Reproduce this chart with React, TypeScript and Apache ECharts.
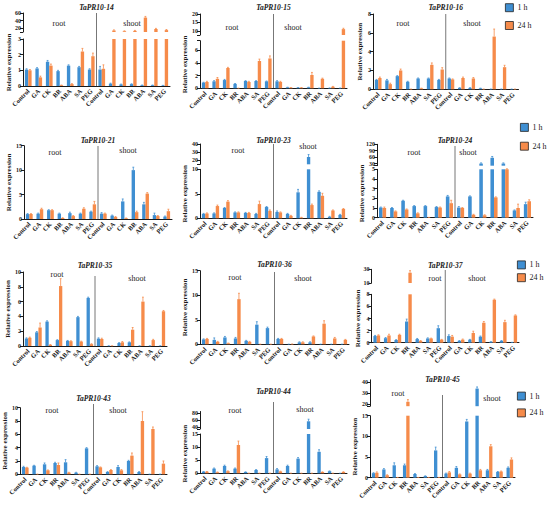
import React, { useEffect, useRef } from "react";
import * as echarts from "echarts";

const categories = ["Control", "GA", "CK", "BR", "ABA", "SA", "PEG", "Control", "GA", "CK", "BR", "ABA", "SA", "PEG"];
const seriesNames = ["1 h", "24 h"];
const yAxisTitle = "Relative expression";
const groupLabels = ["root", "shoot"];

// TaPR10-14
const pr14_1h = [1.05, 1.12, 1.55, 0.95, 1.3, 1.2, 1.05, 1.05, 0.15, 0.1, 0.12, 0.05, 0.05, 0.03];
const pr14_24h = [1.0, 0.55, 1.3, 0.05, 0.12, 2.2, 1.9, 1.1, 14, 12, 13, 48, 18, 15];
const pr14_err1h = [0.05, 0.05, 0.08, 0.05, 0.05, 0.05, 0.05, 0.2, 0.03, 0.02, 0.02, 0.01, 0.01, 0.01];
const pr14_err24h = [0.05, 0.08, 0.1, 0.01, 0.03, 0.2, 0.2, 0.25, 1.5, 1, 1.2, 3, 1.5, 1.5];
const pr14_ticksLow = [0, 1, 2, 3];
const pr14_ticksHigh = [20, 40, 60];

// TaPR10-15
const pr15_1h = [0.9, 1.1, 1.3, 0.7, 1.15, 1.15, 1.1, 1.1, 0.15, 0.1, 0.15, 0.02, 0.05, 0.03];
const pr15_24h = [1.0, 1.5, 3.2, 0.02, 1.0, 4.3, 4.7, 1.0, 0.1, 0.1, 2.1, 1.5, 0.25, 11];
const pr15_err1h = [0.05, 0.1, 0.1, 0.05, 0.05, 0.05, 0.05, 0.1, 0.02, 0.02, 0.02, 0.01, 0.01, 0.01];
const pr15_err24h = [0.1, 0.2, 0.1, 0.01, 0.1, 0.3, 0.4, 0.1, 0.02, 0.02, 0.4, 0.1, 0.05, 0.5];
const pr15_ticksLow = [0, 2, 4, 6];
const pr15_ticksHigh = [10, 15, 20];

// TaPR10-16
const pr16_1h = [1.0, 0.95, 1.4, 0.8, 1.15, 1.15, 1.0, 1.15, 0.15, 0.15, 0.1, 0.02, 0.02, 0.02];
const pr16_24h = [1.2, 0.55, 2.0, 0.02, 0.1, 2.6, 2.1, 1.05, 1.2, 1.15, 0.02, 5.6, 2.35, 0.02];
const pr16_err1h = [0.05, 0.1, 0.05, 0.05, 0.05, 0.05, 0.05, 0.05, 0.02, 0.02, 0.02, 0.01, 0.01, 0.01];
const pr16_err24h = [0.1, 0.1, 0.15, 0.01, 0.02, 0.2, 0.2, 0.05, 0.1, 0.1, 0.01, 0.8, 0.2, 0.01];
const pr16_ticks = [0, 2, 4, 6, 8];

// TaPR10-21
const pr21_1h = [1.0, 1.1, 1.8, 1.1, 1.2, 1.1, 1.5, 1.1, 0.7, 3.6, 10.0, 3.0, 0.8, 0.5];
const pr21_24h = [1.0, 2.0, 1.8, 0.2, 0.6, 2.1, 3.0, 1.1, 0.4, 0.15, 1.4, 5.2, 0.6, 1.6];
const pr21_err1h = [0.1, 0.1, 0.1, 0.1, 0.2, 0.1, 0.1, 0.2, 0.1, 0.5, 0.6, 0.4, 0.4, 0.1];
const pr21_err24h = [0.1, 0.2, 0.1, 0.05, 0.1, 0.2, 0.6, 0.1, 0.1, 0.05, 0.2, 0.2, 0.1, 0.4];
const pr21_ticks = [0, 5, 10, 15];

// TaPR10-23
const pr23_1h = [0.9, 1.0, 2.1, 1.2, 1.1, 0.9, 2.3, 1.3, 0.9, 5.3, 24, 5.4, 0.3, 0.7];
const pr23_24h = [1.0, 2.5, 3.4, 1.2, 1.1, 2.9, 1.5, 1.2, 0.5, 0.15, 2.7, 4.6, 1.6, 1.9];
const pr23_err1h = [0.1, 0.1, 0.1, 0.1, 0.1, 0.1, 0.1, 0.2, 0.1, 0.6, 3, 0.2, 0.1, 0.1];
const pr23_err24h = [0.1, 0.2, 0.2, 0.1, 0.1, 0.6, 0.2, 0.1, 0.1, 0.05, 0.2, 0.5, 0.1, 0.1];
const pr23_ticksLow = [0, 5, 10];
const pr23_ticksHigh = [20, 30, 40];

// TaPR10-24
const pr24_1h = [1.05, 1.0, 1.75, 1.2, 1.2, 1.1, 2.2, 1.05, 2.2, 30, 57, 30, 0.75, 1.4];
const pr24_24h = [1.0, 0.65, 0.85, 0.45, 0.02, 1.05, 1.5, 1.0, 0.3, 0.25, 2.1, 5.0, 1.0, 1.7];
const pr24_err1h = [0.05, 0.05, 0.05, 0.05, 0.05, 0.05, 0.1, 0.1, 0.05, 3, 6, 3, 0.05, 0.2];
const pr24_err24h = [0.1, 0.05, 0.05, 0.05, 0.01, 0.05, 0.3, 0.05, 0.05, 0.05, 0.05, 0.05, 0.4, 0.15];
const pr24_ticksLow = [0, 1, 2, 3, 4, 5];
const pr24_ticksHigh = [30, 60, 90, 120];

// TaPR10-35
const pr35_1h = [1.0, 1.85, 3.3, 0.8, 0.7, 3.9, 6.5, 1.0, 0.02, 0.4, 0.5, 0.02, 0.02, 0.02];
const pr35_24h = [1.1, 2.5, 0.15, 8.1, 0.65, 0.6, 0.25, 0.95, 0.02, 0.5, 2.2, 6.0, 0.8, 4.7];
const pr35_err1h = [0.1, 0.1, 0.1, 0.05, 0.05, 0.1, 0.1, 0.1, 0.01, 0.05, 0.05, 0.01, 0.01, 0.01];
const pr35_err24h = [0.1, 0.6, 0.05, 1.0, 0.05, 0.05, 0.05, 0.1, 0.01, 0.1, 0.3, 0.6, 0.1, 0.1];
const pr35_ticks = [0, 2, 4, 6, 8, 10];

// TaPR10-36
const pr36_1h = [1.0, 0.9, 1.4, 1.2, 0.7, 4.0, 3.3, 1.1, 0.02, 0.4, 0.4, 0.02, 0.02, 0.02];
const pr36_24h = [1.1, 0.5, 0.2, 9.2, 0.5, 0.02, 0.02, 1.1, 0.05, 0.4, 1.6, 4.2, 1.2, 0.9];
const pr36_err1h = [0.1, 0.4, 0.2, 0.2, 0.1, 0.6, 0.2, 0.1, 0.01, 0.1, 0.1, 0.01, 0.01, 0.01];
const pr36_err24h = [0.1, 0.1, 0.05, 1.2, 0.1, 0.01, 0.01, 0.1, 0.02, 0.1, 0.1, 0.6, 0.2, 0.1];
const pr36_ticks = [0, 5, 10, 15];

// TaPR10-37
const pr37_1h = [1.1, 0.75, 0.45, 3.5, 0.6, 0.7, 2.4, 1.1, 0.3, 0.5, 1.0, 0.15, 0.3, 0.05];
const pr37_24h = [1.2, 1.2, 1.3, 25, 0.3, 0.7, 0.5, 1.0, 0.5, 1.6, 3.3, 7.1, 3.4, 4.5];
const pr37_err1h = [0.1, 0.1, 0.05, 0.4, 0.1, 0.1, 0.4, 0.2, 0.05, 0.05, 0.1, 0.02, 0.05, 0.01];
const pr37_err24h = [0.1, 0.2, 0.1, 3, 0.05, 0.05, 0.05, 0.2, 0.1, 0.3, 0.2, 0.1, 0.3, 0.1];
const pr37_ticksLow = [0, 2, 4, 6, 8];
const pr37_ticksHigh = [10, 30];

// TaPR10-43
const pr43_1h = [1.1, 1.3, 1.5, 1.7, 1.8, 0.25, 3.9, 1.2, 0.35, 1.1, 2.0, 0.35, 0.02, 0.02];
const pr43_24h = [1.0, 0.02, 0.6, 1.4, 0.25, 0.02, 0.02, 1.05, 0.65, 0.6, 2.8, 8.0, 6.8, 1.6];
const pr43_err1h = [0.1, 0.05, 0.2, 0.1, 0.4, 0.05, 0.1, 0.1, 0.05, 0.2, 0.1, 0.05, 0.01, 0.01];
const pr43_err24h = [0.05, 0.01, 0.05, 0.3, 0.05, 0.01, 0.01, 0.05, 0.05, 0.1, 0.4, 1.4, 0.3, 0.4];
const pr43_ticks = [0, 2, 4, 6, 8, 10];

// TaPR10-44
const pr44_1h = [0.6, 1.8, 2.8, 1.8, 0.5, 1.3, 5.8, 1.5, 2.8, 5.6, 57, 8.2, 0.8, 0.02];
const pr44_24h = [0.6, 0.4, 0.8, 10.8, 0.05, 0.05, 0.05, 0.7, 0.05, 0.05, 0.05, 0.5, 0.05, 0.5];
const pr44_err1h = [0.1, 0.2, 0.3, 0.2, 0.05, 0.1, 0.6, 0.3, 0.3, 0.4, 6, 0.8, 0.1, 0.01];
const pr44_err24h = [0.1, 0.1, 0.1, 1.5, 0.01, 0.01, 0.01, 0.1, 0.01, 0.01, 0.01, 0.05, 0.01, 0.1];
const pr44_ticksLow = [0, 5, 10, 15];
const pr44_ticksHigh = [40, 60, 80];

// TaPR10-45
const pr45_1h = [1.1, 2.0, 3.0, 3.0, 0.9, 0.4, 6.6, 1.0, 2.4, 13.6, 34, 1.8, 1.4, 2.4];
const pr45_24h = [1.2, 0.6, 0.05, 22, 0.05, 0.05, 0.05, 1.3, 0.8, 1.0, 1.8, 7.6, 1.5, 4.4];
const pr45_err1h = [0.1, 0.2, 0.6, 0.3, 0.1, 0.05, 0.8, 0.1, 0.3, 0.5, 1.5, 0.2, 0.1, 0.2];
const pr45_err24h = [0.2, 0.1, 0.01, 2, 0.01, 0.01, 0.01, 0.2, 0.1, 0.1, 0.2, 0.4, 0.1, 0.4];
const pr45_ticksLow = [0, 5, 10, 15];
const pr45_ticksHigh = [20, 30, 40];

const FONT = "Liberation Serif";
const BLUE = "#3f8fd2";
const ORANGE = "#f68b4a";
const INK = "#1a1a1a";

type Seg = { min: number; max: number; top: number; bottom: number; ticks: number[] };
type Panel = {
  title: string; h1: number[]; h24: number[]; e1: number[]; e24: number[];
  left: number; right: number; titleY: number; lower: Seg; upper?: Seg;
  root: [number, number]; shoot: [number, number]; sepTop: number; nameGap: number;
  legend?: { left: number; top: number; gap: number };
};

const panels: Panel[] = [
  { title: "TaPR10-14", h1: pr14_1h, h24: pr14_24h, e1: pr14_err1h, e24: pr14_err24h, left: 23, right: 170, titleY: 7,
    lower: { min: 0, max: 3, top: 39, bottom: 86, ticks: pr14_ticksLow }, upper: { min: 10, max: 60, top: 13, bottom: 32, ticks: pr14_ticksHigh },
    root: [59, 23], shoot: [132, 23], sepTop: 13, nameGap: 11 },
  { title: "TaPR10-15", h1: pr15_1h, h24: pr15_24h, e1: pr15_err1h, e24: pr15_err24h, left: 200, right: 347, titleY: 7,
    lower: { min: 0, max: 7.5, top: 40.7, bottom: 88.3, ticks: pr15_ticksLow }, upper: { min: 7.5, max: 20, top: 14, bottom: 35, ticks: pr15_ticksHigh },
    root: [232, 27], shoot: [293, 27], sepTop: 14, nameGap: 12 },
  { title: "TaPR10-16", h1: pr16_1h, h24: pr16_24h, e1: pr16_err1h, e24: pr16_err24h, left: 373, right: 518.5, titleY: 7,
    lower: { min: 0, max: 8, top: 14, bottom: 89.3, ticks: pr16_ticks },
    root: [403, 23], shoot: [472, 23], sepTop: 14, nameGap: 10, legend: { left: 505, top: 3.3, gap: 9 } },
  { title: "TaPR10-21", h1: pr21_1h, h24: pr21_24h, e1: pr21_err1h, e24: pr21_err24h, left: 24, right: 172, titleY: 140,
    lower: { min: 0, max: 15, top: 145.7, bottom: 219, ticks: pr21_ticks },
    root: [55, 152], shoot: [128, 150], sepTop: 146, nameGap: 12 },
  { title: "TaPR10-23", h1: pr23_1h, h24: pr23_24h, e1: pr23_err1h, e24: pr23_err24h, left: 200, right: 347, titleY: 140,
    lower: { min: 0, max: 10, top: 169.3, bottom: 218.3, ticks: pr23_ticksLow }, upper: { min: 15, max: 40, top: 144, bottom: 164.3, ticks: pr23_ticksHigh },
    root: [238, 150], shoot: [308, 146], sepTop: 144, nameGap: 12 },
  { title: "TaPR10-24", h1: pr24_1h, h24: pr24_24h, e1: pr24_err1h, e24: pr24_err24h, left: 377, right: 533, titleY: 140,
    lower: { min: 0, max: 5, top: 169.3, bottom: 217.7, ticks: pr24_ticksLow }, upper: { min: 20, max: 120, top: 144.3, bottom: 165.7, ticks: pr24_ticksHigh },
    root: [414, 152], shoot: [468, 152], sepTop: 146, nameGap: 12, legend: { left: 520, top: 123, gap: 10 } },
  { title: "TaPR10-35", h1: pr35_1h, h24: pr35_24h, e1: pr35_err1h, e24: pr35_err24h, left: 23, right: 167, titleY: 265,
    lower: { min: 0, max: 10, top: 272, bottom: 346, ticks: pr35_ticks },
    root: [57, 274], shoot: [137, 278], sepTop: 276, nameGap: 12 },
  { title: "TaPR10-36", h1: pr36_1h, h24: pr36_24h, e1: pr36_err1h, e24: pr36_err24h, left: 200, right: 349, titleY: 264,
    lower: { min: 0, max: 15, top: 270.7, bottom: 344.3, ticks: pr36_ticks },
    root: [235, 277], shoot: [303, 278], sepTop: 272, nameGap: 12 },
  { title: "TaPR10-37", h1: pr37_1h, h24: pr37_24h, e1: pr37_err1h, e24: pr37_err24h, left: 371.5, right: 519, titleY: 265,
    lower: { min: 0, max: 8, top: 294.3, bottom: 342.7, ticks: pr37_ticksLow }, upper: { min: 10, max: 30, top: 269.3, bottom: 283, ticks: pr37_ticksHigh },
    root: [435, 278], shoot: [477, 278], sepTop: 270, nameGap: 10, legend: { left: 517, top: 260.5, gap: 4 } },
  { title: "TaPR10-43", h1: pr43_1h, h24: pr43_24h, e1: pr43_err1h, e24: pr43_err24h, left: 20, right: 167, titleY: 398,
    lower: { min: 0, max: 10, top: 407.7, bottom: 474.3, ticks: pr43_ticks },
    root: [52, 410], shoot: [118, 410], sepTop: 404, nameGap: 11 },
  { title: "TaPR10-44", h1: pr44_1h, h24: pr44_24h, e1: pr44_err1h, e24: pr44_err24h, left: 200, right: 347, titleY: 391,
    lower: { min: 0, max: 15, top: 434, bottom: 473.3, ticks: pr44_ticksLow }, upper: { min: 35, max: 85, top: 411.5, bottom: 429, ticks: pr44_ticksHigh },
    root: [235, 410], shoot: [305, 409], sepTop: 402, nameGap: 12 },
  { title: "TaPR10-45", h1: pr45_1h, h24: pr45_24h, e1: pr45_err1h, e24: pr45_err24h, left: 370, right: 515, titleY: 379,
    lower: { min: 0, max: 15, top: 415.7, bottom: 477.7, ticks: pr45_ticksLow }, upper: { min: 18, max: 42, top: 379.8, bottom: 406.2, ticks: pr45_ticksHigh },
    root: [398, 393], shoot: [492, 398], sepTop: 395, nameGap: 12, legend: { left: 517, top: 391.7, gap: 8 } },
];

function errRender(params: any, api: any) {
  const i = api.value(0);
  const v = api.value(1);
  const e = api.value(2);
  const k = api.value(3);
  const band = api.size([1, 0])[0];
  const barW = (band * 0.64) / 2;
  const base = api.coord([i, v]);
  const cx = base[0] + (k === 0 ? -barW / 2 : barW / 2);
  const top = api.coord([i, v + e])[1];
  const capW = barW * 0.55;
  const color = k === 0 ? BLUE : ORANGE;
  return {
    type: "group",
    children: [
      { type: "line", shape: { x1: cx, y1: base[1], x2: cx, y2: top }, style: { stroke: color, lineWidth: 0.8 } },
      { type: "line", shape: { x1: cx - capW / 2, y1: top, x2: cx + capW / 2, y2: top }, style: { stroke: color, lineWidth: 0.8 } },
    ],
  };
}

function buildOption(): any {
  const grid: any[] = [];
  const xAxis: any[] = [];
  const yAxis: any[] = [];
  const series: any[] = [];
  const graphic: any[] = [];
  const legend: any[] = [];

  panels.forEach((p) => {
    const segs: Seg[] = p.upper ? [p.lower, p.upper] : [p.lower];
    segs.forEach((s, si) => {
      const gi = grid.length;
      const isLower = si === 0;
      const broken = !!p.upper;
      grid.push({ left: p.left, width: p.right - p.left, top: s.top, height: s.bottom - s.top });
      xAxis.push({
        type: "category", gridIndex: gi, data: categories, show: isLower,
        axisLine: { lineStyle: { color: INK, width: 1 } },
        axisTick: { alignWithLabel: true, length: 3, lineStyle: { color: INK, width: 0.8 } },
        axisLabel: { interval: 0, rotate: 45, fontSize: 6.5, fontWeight: "bold", fontFamily: FONT, color: INK, margin: 4 },
      });
      const tickVals = [...s.ticks];
      if (broken && isLower && !tickVals.includes(s.max)) tickVals.push(s.max);
      if (broken && !isLower && !tickVals.includes(s.min)) tickVals.push(s.min);
      yAxis.push({
        type: "value", gridIndex: gi, min: s.min, max: s.max,
        splitLine: { show: false },
        axisLine: { show: true, lineStyle: { color: INK, width: 1 } },
        axisTick: { show: true, length: 3, customValues: tickVals, lineStyle: { color: INK, width: 1 } },
        axisLabel: { customValues: s.ticks, fontSize: 6, fontWeight: "bold", fontFamily: FONT, color: INK, margin: 2 },
        name: isLower ? yAxisTitle : "",
        nameLocation: "middle", nameGap: p.nameGap,
        nameTextStyle: { fontSize: 7, fontWeight: "bold", fontFamily: FONT, color: INK },
      });
      const pick = (arr: number[]) => arr.map((v) => (isLower ? v : v > s.min ? v : null));
      series.push({ type: "bar", name: seriesNames[0], xAxisIndex: gi, yAxisIndex: gi, data: pick(p.h1),
        itemStyle: { color: BLUE }, barGap: "0%", barCategoryGap: "36%", clip: true, silent: true });
      series.push({ type: "bar", name: seriesNames[1], xAxisIndex: gi, yAxisIndex: gi, data: pick(p.h24),
        itemStyle: { color: ORANGE }, barGap: "0%", barCategoryGap: "36%", clip: true, silent: true });
      const errData: number[][] = [];
      [p.h1, p.h24].forEach((vals, k) => {
        const errs = k === 0 ? p.e1 : p.e24;
        vals.forEach((v, i) => {
          const inSeg = isLower ? (broken ? v <= s.max : true) : v > s.min;
          if (inSeg && errs[i] > 0) errData.push([i, v, errs[i], k]);
        });
      });
      series.push({ type: "custom", name: "err", xAxisIndex: gi, yAxisIndex: gi, renderItem: errRender,
        data: errData, encode: { x: 0, y: 1 }, silent: true, z: 5 });
    });

    const cx = (p.left + p.right) / 2;
    graphic.push({ type: "text", x: cx, y: p.titleY, silent: true,
      style: { text: p.title, font: `italic bold 7.5px "${FONT}"`, fill: INK, textAlign: "center", textVerticalAlign: "middle", align: "center", verticalAlign: "middle" } });
    graphic.push({ type: "text", x: p.root[0], y: p.root[1], silent: true,
      style: { text: groupLabels[0], font: `8px "${FONT}"`, fill: INK, textAlign: "center", textVerticalAlign: "middle", align: "center", verticalAlign: "middle" } });
    graphic.push({ type: "text", x: p.shoot[0], y: p.shoot[1], silent: true,
      style: { text: groupLabels[1], font: `8px "${FONT}"`, fill: INK, textAlign: "center", textVerticalAlign: "middle", align: "center", verticalAlign: "middle" } });
    graphic.push({ type: "line", silent: true,
      shape: { x1: cx, y1: p.sepTop, x2: cx, y2: p.lower.bottom },
      style: { stroke: "#777", lineWidth: 1 } });

    if (p.legend) {
      legend.push({
        data: seriesNames, left: p.legend.left, top: p.legend.top, orient: "vertical",
        itemWidth: 8, itemHeight: 8, itemGap: p.legend.gap, icon: "rect",
        itemStyle: { borderColor: "#222", borderWidth: 0.8 },
        textStyle: { fontFamily: FONT, fontSize: 8, color: INK, padding: [0, 0, 0, -1] },
        padding: 0, selectedMode: false,
      });
    }
  });

  return { animation: false, backgroundColor: "#ffffff", grid, xAxis, yAxis, series, graphic, legend };
}

export default function App() {
  const ref = useRef<HTMLDivElement>(null);
  useEffect(() => {
    if (!ref.current) return;
    const chart = echarts.init(ref.current, undefined, { renderer: "svg" });
    chart.setOption(buildOption());
    return () => chart.dispose();
  }, []);
  return <div ref={ref} style={{ position: "absolute", left: 0, top: 0, width: 550, height: 505 }} />;
}
